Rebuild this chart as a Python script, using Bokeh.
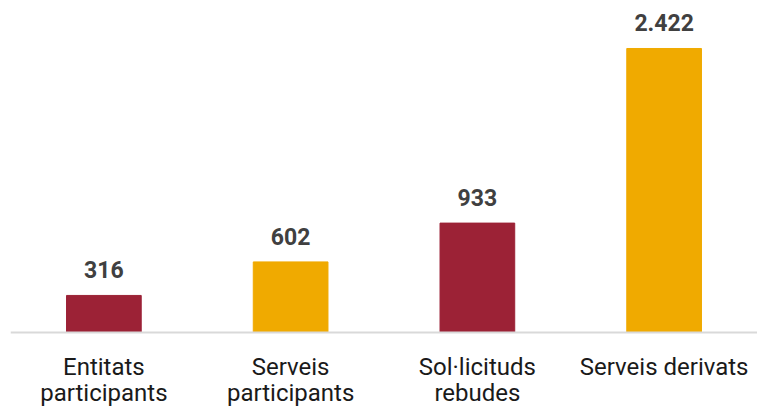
from bokeh.plotting import figure
from bokeh.models import ColumnDataSource, FactorRange, Range1d, Span
from bokeh.core.properties import value
from bokeh.embed import file_html
from bokeh.resources import INLINE

categories = ["Entitats participants", "Serveis participants", "Sol·licituds rebudes", "Serveis derivats"]
label_line1 = ["Entitats", "Serveis", "Sol·licituds", "Serveis derivats"]
label_line2 = ["participants", "participants", "rebudes", ""]
values = [316, 602, 933, 2422]
value_labels = ["316", "602", "933", "2.422"]
colors = ["#9C2236", "#F0AA00", "#9C2236", "#F0AA00"]

source = ColumnDataSource(dict(cat=categories, val=values, lab=value_labels, col=colors,
                               l1=label_line1, l2=label_line2, zero=[0] * len(values)))

p = figure(x_range=FactorRange(*categories, range_padding=0), y_range=Range1d(-631, 2763),
           frame_width=747, frame_height=398,
           output_backend="svg", toolbar_location=None,
           min_border_top=8, min_border_left=10, min_border_right=0, min_border_bottom=0,
           x_axis_location=None, y_axis_location=None)

p.vbar(x="cat", top="val", bottom=0, width=0.4, color="col", source=source)
p.add_layout(Span(location=0, dimension="width", line_color="#D9D9D9", line_width=2))

p.text(x="cat", y="val", text="lab", source=source, text_align="center",
       text_baseline="alphabetic", y_offset=-25.5,
       text_font=value("Roboto"), text_font_style="bold", text_font_size="23px",
       text_color="#404040")

for col, off in (("l1", 34), ("l2", 60)):
    p.text(x="cat", y="zero", text=col, source=source, y_offset=off,
           text_align="center", text_baseline="alphabetic",
           text_font=value("Roboto"), text_font_size="24px", text_color="#1A1A1A")

p.xgrid.grid_line_color = None
p.ygrid.grid_line_color = None
p.outline_line_color = None
p.background_fill_color = "white"
p.border_fill_color = "white"

open("out.html", "w").write(file_html(p, INLINE))
